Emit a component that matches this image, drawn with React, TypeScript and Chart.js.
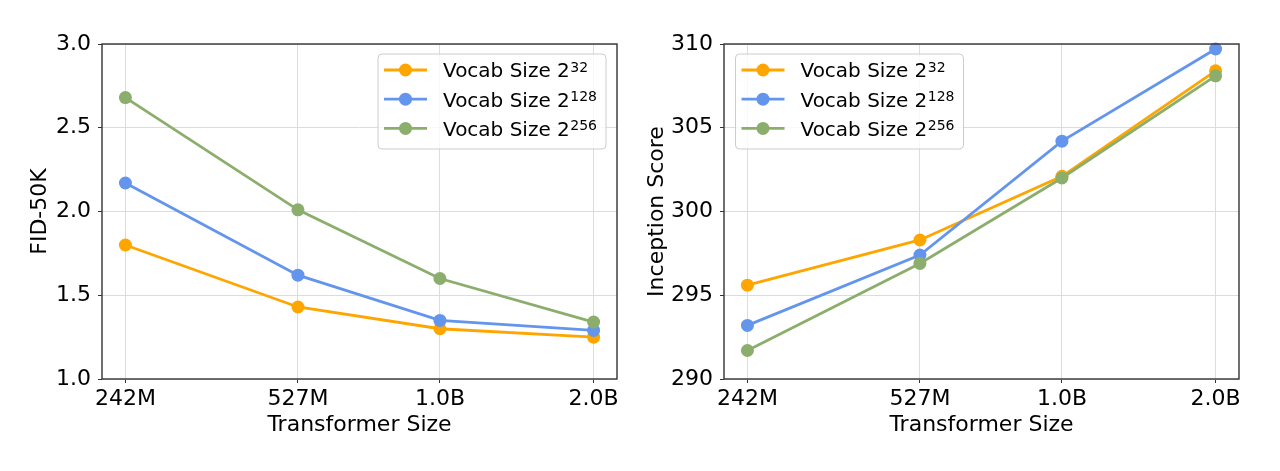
import React, { useEffect, useRef } from 'react';
import { Chart, registerables } from 'chart.js';

Chart.register(...registerables);

// ---- data ----
const sizes = [242e6, 527e6, 1e9, 2e9];
const sizeLabels = ['242M', '527M', '1.0B', '2.0B'];
const legendBase = 'Vocab Size 2';
const exponents = ['32', '128', '256'];
const colors = ['#FFA500', '#6495ED', '#8CAE6C'];

const fid32 = [1.80, 1.43, 1.30, 1.25];
const fid128 = [2.17, 1.62, 1.35, 1.29];
const fid256 = [2.68, 2.01, 1.60, 1.34];

const is32 = [295.6, 298.3, 302.1, 308.4];
const is128 = [293.2, 297.4, 304.2, 309.7];
const is256 = [291.7, 296.9, 302.0, 308.1];

const fidTicks = [1.0, 1.5, 2.0, 2.5, 3.0];
const isTicks = [290, 295, 300, 305, 310];

const FONT = 'DejaVu Sans';

const frameLegendPlugin = {
  id: 'mplFrameLegend',
  afterDraw(chart: any, _args: any, opts: any) {
    const ctx = chart.ctx as CanvasRenderingContext2D;
    const a = chart.chartArea;
    ctx.save();
    // frame (spines)
    ctx.strokeStyle = '#333333';
    ctx.lineWidth = 1.4;
    ctx.strokeRect(a.left, a.top, a.right - a.left, a.bottom - a.top);

    // legend box
    const w = 228, h = 95;
    const x0 = opts.side === 'right' ? a.right - 11 - w : a.left + 11.5;
    const y0 = a.top + 10;
    const r = 4;
    ctx.beginPath();
    ctx.moveTo(x0 + r, y0);
    ctx.lineTo(x0 + w - r, y0);
    ctx.quadraticCurveTo(x0 + w, y0, x0 + w, y0 + r);
    ctx.lineTo(x0 + w, y0 + h - r);
    ctx.quadraticCurveTo(x0 + w, y0 + h, x0 + w - r, y0 + h);
    ctx.lineTo(x0 + r, y0 + h);
    ctx.quadraticCurveTo(x0, y0 + h, x0, y0 + h - r);
    ctx.lineTo(x0, y0 + r);
    ctx.quadraticCurveTo(x0, y0, x0 + r, y0);
    ctx.closePath();
    ctx.fillStyle = 'rgba(255,255,255,0.8)';
    ctx.fill();
    ctx.strokeStyle = '#cccccc';
    ctx.lineWidth = 1;
    ctx.stroke();

    chart.data.datasets.forEach((ds: any, i: number) => {
      const cy = y0 + 16 + i * 29.2;
      ctx.strokeStyle = ds.borderColor;
      ctx.lineWidth = 2.8;
      ctx.beginPath();
      ctx.moveTo(x0 + 6, cy);
      ctx.lineTo(x0 + 49, cy);
      ctx.stroke();
      ctx.fillStyle = ds.borderColor;
      ctx.beginPath();
      ctx.arc(x0 + 27.5, cy, 6.5, 0, Math.PI * 2);
      ctx.fill();

      ctx.fillStyle = '#000000';
      ctx.textAlign = 'left';
      ctx.textBaseline = 'alphabetic';
      ctx.font = `20px "${FONT}"`;
      const tx = x0 + 65;
      const by = cy + 7.3;
      ctx.fillText(legendBase, tx, by);
      const bw = ctx.measureText(legendBase).width;
      ctx.font = `14px "${FONT}"`;
      ctx.fillText(exponents[i], tx + bw + 0.5, by - 5.8);
    });
    ctx.restore();
  },
};

function makeConfig(
  series: number[][],
  yTicks: number[],
  yTitle: string,
  yFmt: (v: number) => string,
  yWidth: number,
  yTitlePad: number,
  padRight: number,
  legendSide: string
): any {
  const span = Math.log10(sizes[sizes.length - 1] / sizes[0]);
  const m = Math.pow(10, 0.05 * span);
  const tickFont = { family: FONT, size: 22 };
  return {
    type: 'line',
    data: {
      datasets: series.map((vals, i) => ({
        label: legendBase + exponents[i],
        data: sizes.map((x, j) => ({ x, y: vals[j] })),
        borderColor: colors[i],
        backgroundColor: colors[i],
        pointBackgroundColor: colors[i],
        pointBorderWidth: 0,
        pointRadius: 6.5,
        pointHoverRadius: 6.5,
        borderWidth: 2.8,
        tension: 0,
        order: series.length - i,
        clip: false,
      })),
    },
    options: {
      animation: false,
      responsive: false,
      events: [],
      layout: { padding: { top: 44, right: padRight, left: 0, bottom: 0 } },
      plugins: {
        legend: { display: false },
        tooltip: { enabled: false },
        mplFrameLegend: { side: legendSide },
      },
      scales: {
        x: {
          type: 'logarithmic',
          min: sizes[0] / m,
          max: sizes[sizes.length - 1] * m,
          afterBuildTicks: (scale: any) => {
            scale.ticks = sizes.map((v) => ({ value: v }));
          },
          afterFit: (scale: any) => {
            scale.height = 92;
          },
          border: { display: false },
          grid: {
            color: '#dcdcdc',
            lineWidth: 1,
            tickColor: '#333333',
            tickLength: 4,
            drawTicks: true,
          },
          ticks: {
            autoSkip: false,
            maxRotation: 0,
            minRotation: 0,
            padding: 3,
            color: '#000000',
            font: tickFont,
            callback: (v: any) => {
              const idx = sizes.indexOf(Number(v));
              return idx >= 0 ? sizeLabels[idx] : '';
            },
          },
          title: {
            display: true,
            text: 'Transformer Size',
            color: '#000000',
            font: { family: FONT, size: 22 },
            padding: { top: 0, bottom: 33 },
          },
        },
        y: {
          type: 'linear',
          min: yTicks[0],
          max: yTicks[yTicks.length - 1],
          afterBuildTicks: (scale: any) => {
            scale.ticks = yTicks.map((v) => ({ value: v }));
          },
          afterFit: (scale: any) => {
            scale.width = yWidth;
          },
          border: { display: false },
          grid: {
            color: '#dcdcdc',
            lineWidth: 1,
            tickColor: '#333333',
            tickLength: 4,
            drawTicks: true,
          },
          ticks: {
            padding: 7,
            color: '#000000',
            font: tickFont,
            callback: (v: any) => yFmt(Number(v)),
          },
          title: {
            display: true,
            text: yTitle,
            color: '#000000',
            font: { family: FONT, size: 22 },
            padding: { top: yTitlePad, bottom: 0 },
          },
        },
      },
    },
    plugins: [frameLegendPlugin],
  };
}

function ChartCanvas({ config }: { config: any }) {
  const ref = useRef<HTMLCanvasElement | null>(null);
  useEffect(() => {
    if (!ref.current) return;
    const chart = new Chart(ref.current, config);
    return () => chart.destroy();
  }, [config]);
  return (
    <canvas
      ref={ref}
      width={640}
      height={471}
      style={{ width: 640, height: 471, display: 'block' }}
    />
  );
}

const leftConfig = makeConfig(
  [fid32, fid128, fid256],
  fidTicks,
  'FID-50K',
  (v) => v.toFixed(1),
  102,
  27,
  23,
  'right'
);

const rightConfig = makeConfig(
  [is32, is128, is256],
  isTicks,
  'Inception Score',
  (v) => String(Math.round(v)),
  84,
  4,
  41,
  'left'
);

export default function App() {
  return (
    <div
      style={{
        position: 'absolute',
        left: 0,
        top: 0,
        width: 1280,
        height: 471,
        background: '#ffffff',
        display: 'flex',
      }}
    >
      <ChartCanvas config={leftConfig} />
      <ChartCanvas config={rightConfig} />
    </div>
  );
}
